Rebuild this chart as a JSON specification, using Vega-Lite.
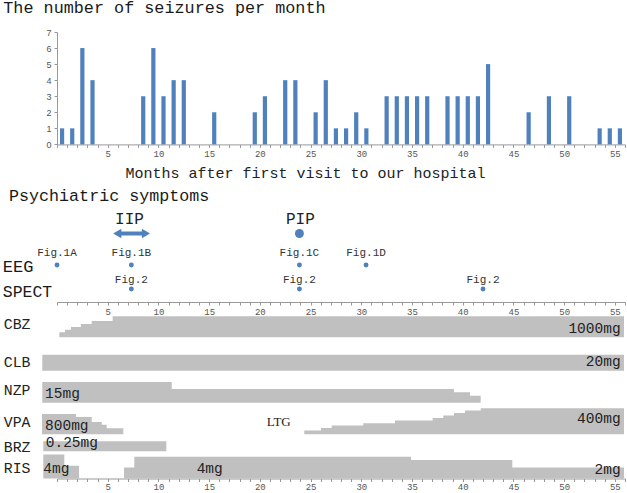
{
"$schema": "https://vega.github.io/schema/vega-lite/v6.json",
"padding": {"left": 2, "top": 0, "right": 2, "bottom": 2},
"spacing": 0,
"bounds": "flush",
"config": {
  "view": {"stroke": null},
  "axis": {"grid": false, "domainColor": "#999999", "tickColor": "#999999", "tickSize": 3, "labelFont": "Liberation Mono", "labelFontSize": 9, "labelColor": "#555555", "labelPadding": 2, "labelFlush": false, "labelOverlap": false},
  "text": {"font": "Liberation Mono", "color": "#222222", "baseline": "middle"},
  "title": {"font": "Liberation Mono"}
},
"vconcat": [
{
  "width": 568, "height": 112.4,
  "title": {"text": "The number of seizures per month", "anchor": "start", "frame": "group", "dx": -53.7, "offset": -2, "fontSize": 16.8, "fontWeight": "normal", "color": "#1a1a1a", "baseline": "alphabetic"},
  "data": {"values": [
    {"month": 1, "seizures": 1}, {"month": 2, "seizures": 1}, {"month": 3, "seizures": 6}, {"month": 4, "seizures": 4},
    {"month": 9, "seizures": 3}, {"month": 10, "seizures": 6}, {"month": 11, "seizures": 3}, {"month": 12, "seizures": 4},
    {"month": 13, "seizures": 4}, {"month": 16, "seizures": 2}, {"month": 20, "seizures": 2}, {"month": 21, "seizures": 3},
    {"month": 23, "seizures": 4}, {"month": 24, "seizures": 4}, {"month": 26, "seizures": 2}, {"month": 27, "seizures": 4},
    {"month": 28, "seizures": 1}, {"month": 29, "seizures": 1}, {"month": 30, "seizures": 2}, {"month": 31, "seizures": 1},
    {"month": 33, "seizures": 3}, {"month": 34, "seizures": 3}, {"month": 35, "seizures": 3}, {"month": 36, "seizures": 3},
    {"month": 37, "seizures": 3}, {"month": 39, "seizures": 3}, {"month": 40, "seizures": 3}, {"month": 41, "seizures": 3},
    {"month": 42, "seizures": 3}, {"month": 43, "seizures": 5}, {"month": 47, "seizures": 2}, {"month": 49, "seizures": 3},
    {"month": 51, "seizures": 3}, {"month": 54, "seizures": 1}, {"month": 55, "seizures": 1}, {"month": 56, "seizures": 1}
  ]},
  "mark": {"type": "rule", "strokeWidth": 4.2, "xOffset": -5.07, "color": "#4F81BD"},
  "encoding": {
    "x": {"field": "month", "type": "quantitative", "scale": {"domain": [0, 56], "nice": false, "zero": false},
      "axis": {"values": [0,1,2,3,4,5,6,7,8,9,10,11,12,13,14,15,16,17,18,19,20,21,22,23,24,25,26,27,28,29,30,31,32,33,34,35,36,37,38,39,40,41,42,43,44,45,46,47,48,49,50,51,52,53,54,55,56],
        "labelExpr": "datum.value % 5 === 0 && datum.value > 0 ? datum.label : ''",
        "title": "Months after first visit to our hospital", "titleFont": "Liberation Mono", "titleFontSize": 15, "titleFontWeight": "normal", "titleColor": "#222222", "titleX": 248, "titleY": 33, "titleBaseline": "alphabetic"}},
    "y": {"field": "seizures", "type": "quantitative", "scale": {"domain": [0, 7], "nice": false},
      "axis": {"values": [0,1,2,3,4,5,6,7], "title": null, "labelFont": "Liberation Sans", "labelFontSize": 9, "labelPadding": 3}},
    "y2": {"datum": 0}
  }
},
{
  "width": 568, "height": 67.3,
  "data": {"values": [{"heading": "Psychiatric symptoms"}]},
  "mark": {"type": "text", "align": "left", "dy": 17.15, "fontSize": 16.7, "color": "#1a1a1a"},
  "encoding": {
    "text": {"field": "heading"},
    "x": {"datum": -4.73, "type": "quantitative", "scale": {"domain": [0, 56], "nice": false, "zero": false}, "axis": null}
  }
},
{
  "width": 568, "height": 41,
  "layer": [
    {"data": {"values": [{"episode": "IIP", "start": 5.94, "end": 8.77}]},
     "layer": [
       {"mark": {"type": "rule", "strokeWidth": 4, "color": "#4F81BD"},
        "encoding": {"x": {"field": "start", "type": "quantitative", "scale": {"domain": [0, 56], "nice": false, "zero": false}, "axis": null}, "x2": {"field": "end"}}},
       {"mark": {"type": "point", "shape": "triangle-left", "size": 90, "filled": true, "opacity": 1, "color": "#4F81BD"},
        "encoding": {"x": {"field": "start", "type": "quantitative", "scale": {"domain": [0, 56], "nice": false, "zero": false}, "axis": null}}},
       {"mark": {"type": "point", "shape": "triangle-right", "size": 90, "filled": true, "opacity": 1, "color": "#4F81BD"},
        "encoding": {"x": {"field": "end", "type": "quantitative", "scale": {"domain": [0, 56], "nice": false, "zero": false}, "axis": null}}}
     ]},
    {"data": {"values": [{"episode": "PIP", "month": 23.9}]},
     "mark": {"type": "circle", "size": 80, "opacity": 1, "color": "#4F81BD"},
     "encoding": {"x": {"field": "month", "type": "quantitative", "scale": {"domain": [0, 56], "nice": false, "zero": false}, "axis": null}}},
    {"data": {"values": [{"episode": "IIP", "month": 7.15}, {"episode": "PIP", "month": 24.0}]},
     "mark": {"type": "text", "dy": -14.7, "fontSize": 16, "color": "#222222"},
     "encoding": {"text": {"field": "episode"}, "x": {"field": "month", "type": "quantitative", "scale": {"domain": [0, 56], "nice": false, "zero": false}, "axis": null}}}
  ]
},
{
  "width": 568, "height": 22,
  "data": {"values": [{"figure": "Fig.1A", "month": 0}, {"figure": "Fig.1B", "month": 7.33}, {"figure": "Fig.1C", "month": 23.9}, {"figure": "Fig.1D", "month": 30.47}]},
  "layer": [
    {"mark": {"type": "circle", "size": 24, "opacity": 1, "color": "#4F81BD"},
     "encoding": {"x": {"field": "month", "type": "quantitative", "scale": {"domain": [0, 56], "nice": false, "zero": false}, "axis": null}}},
    {"mark": {"type": "text", "dy": -12, "fontSize": 11, "color": "#333333"},
     "encoding": {"text": {"field": "figure"}, "x": {"field": "month", "type": "quantitative", "scale": {"domain": [0, 56], "nice": false, "zero": false}, "axis": null}}},
    {"data": {"values": [{"exam": "EEG"}]},
     "mark": {"type": "text", "align": "left", "dy": 1.5, "fontSize": 17, "color": "#1a1a1a"},
     "encoding": {"text": {"field": "exam"}, "x": {"datum": -5.35, "type": "quantitative", "scale": {"domain": [0, 56], "nice": false, "zero": false}, "axis": null}}}
  ]
},
{
  "width": 568, "height": 26,
  "data": {"values": [{"figure": "Fig.2", "month": 7.33}, {"figure": "Fig.2", "month": 23.9}, {"figure": "Fig.2", "month": 42.0}]},
  "layer": [
    {"mark": {"type": "circle", "size": 24, "opacity": 1, "color": "#4F81BD"},
     "encoding": {"x": {"field": "month", "type": "quantitative", "scale": {"domain": [0, 56], "nice": false, "zero": false},
       "axis": {"values": [0,1,2,3,4,5,6,7,8,9,10,11,12,13,14,15,16,17,18,19,20,21,22,23,24,25,26,27,28,29,30,31,32,33,34,35,36,37,38,39,40,41,42,43,44,45,46,47,48,49,50,51,52,53,54,55,56], "labelExpr": "datum.value % 5 === 0 && datum.value > 0 ? datum.label : ''", "title": null}}}},
    {"mark": {"type": "text", "dy": -9.3, "fontSize": 11, "color": "#333333"},
     "encoding": {"text": {"field": "figure"}, "x": {"field": "month", "type": "quantitative", "scale": {"domain": [0, 56], "nice": false, "zero": false},
       "axis": {"values": [0,1,2,3,4,5,6,7,8,9,10,11,12,13,14,15,16,17,18,19,20,21,22,23,24,25,26,27,28,29,30,31,32,33,34,35,36,37,38,39,40,41,42,43,44,45,46,47,48,49,50,51,52,53,54,55,56], "labelExpr": "datum.value % 5 === 0 && datum.value > 0 ? datum.label : ''", "title": null}}}},
    {"data": {"values": [{"exam": "SPECT"}]},
     "mark": {"type": "text", "align": "left", "dy": 3, "fontSize": 16.5, "color": "#1a1a1a"},
     "encoding": {"text": {"field": "exam"}, "x": {"datum": -5.35, "type": "quantitative", "scale": {"domain": [0, 56], "nice": false, "zero": false},
       "axis": {"values": [0,1,2,3,4,5,6,7,8,9,10,11,12,13,14,15,16,17,18,19,20,21,22,23,24,25,26,27,28,29,30,31,32,33,34,35,36,37,38,39,40,41,42,43,44,45,46,47,48,49,50,51,52,53,54,55,56], "labelExpr": "datum.value % 5 === 0 && datum.value > 0 ? datum.label : ''", "title": null}}}}
  ]
},
{
  "width": 568, "height": 35.3,
  "layer": [
    {"data": {"values": [{"month": 0.23, "dose": 240}, {"month": 0.79, "dose": 360}, {"month": 1.38, "dose": 490}, {"month": 2.37, "dose": 630}, {"month": 3.42, "dose": 775}, {"month": 5.49, "dose": 1000}, {"month": 55.9, "dose": 1000}]},
     "mark": {"type": "area", "interpolate": "step-after", "color": "#C0C0C0", "opacity": 1},
     "encoding": {"x": {"field": "month", "type": "quantitative", "scale": {"domain": [0, 56], "nice": false, "zero": false}, "axis": null},
       "y": {"field": "dose", "type": "quantitative", "stack": null, "scale": {"domain": [0, 1681], "nice": false}, "axis": null}}},
    {"data": {"values": [{"drug": "CBZ"}]},
     "mark": {"type": "text", "align": "left", "dy": 5.05, "fontSize": 14.8},
     "encoding": {"text": {"field": "drug"}, "x": {"datum": -5.25, "type": "quantitative", "scale": {"domain": [0, 56], "nice": false, "zero": false}, "axis": null}}},
    {"data": {"values": [{"dose_label": "1000mg"}]},
     "mark": {"type": "text", "align": "right", "dy": 9, "fontSize": 14.5},
     "encoding": {"text": {"field": "dose_label"}, "x": {"datum": 55.57, "type": "quantitative", "scale": {"domain": [0, 56], "nice": false, "zero": false}, "axis": null}}}
  ]
},
{
  "width": 568, "height": 32.7,
  "layer": [
    {"data": {"values": [{"month": -1.45, "dose": 20}, {"month": 55.9, "dose": 20}]},
     "mark": {"type": "area", "interpolate": "step-after", "color": "#C0C0C0", "opacity": 1},
     "encoding": {"x": {"field": "month", "type": "quantitative", "scale": {"domain": [0, 56], "nice": false, "zero": false}, "axis": null},
       "y": {"field": "dose", "type": "quantitative", "stack": null, "scale": {"domain": [0, 40.9], "nice": false}, "axis": null}}},
    {"data": {"values": [{"drug": "CLB"}]},
     "mark": {"type": "text", "align": "left", "dy": 8.35, "fontSize": 14.8},
     "encoding": {"text": {"field": "drug"}, "x": {"datum": -5.25, "type": "quantitative", "scale": {"domain": [0, 56], "nice": false, "zero": false}, "axis": null}}},
    {"data": {"values": [{"dose_label": "20mg"}]},
     "mark": {"type": "text", "align": "right", "dy": 7.85, "fontSize": 14.5},
     "encoding": {"text": {"field": "dose_label"}, "x": {"datum": 55.57, "type": "quantitative", "scale": {"domain": [0, 56], "nice": false, "zero": false}, "axis": null}}}
  ]
},
{
  "width": 568, "height": 31.7,
  "layer": [
    {"data": {"values": [{"month": -1.45, "dose": 15}, {"month": 11.31, "dose": 10}, {"month": 39.14, "dose": 7.5}, {"month": 40.72, "dose": 5}, {"month": 41.77, "dose": 5}]},
     "mark": {"type": "area", "interpolate": "step-after", "color": "#C0C0C0", "opacity": 1},
     "encoding": {"x": {"field": "month", "type": "quantitative", "scale": {"domain": [0, 56], "nice": false, "zero": false}, "axis": null},
       "y": {"field": "dose", "type": "quantitative", "stack": null, "scale": {"domain": [0, 22.97], "nice": false}, "axis": null}}},
    {"data": {"values": [{"drug": "NZP"}]},
     "mark": {"type": "text", "align": "left", "dy": 4.15, "fontSize": 14.8},
     "encoding": {"text": {"field": "drug"}, "x": {"datum": -5.25, "type": "quantitative", "scale": {"domain": [0, 56], "nice": false, "zero": false}, "axis": null}}},
    {"data": {"values": [{"dose_label": "15mg"}]},
     "mark": {"type": "text", "align": "left", "dy": 7.15, "fontSize": 14.5},
     "encoding": {"text": {"field": "dose_label"}, "x": {"datum": -1.18, "type": "quantitative", "scale": {"domain": [0, 56], "nice": false, "zero": false}, "axis": null}}}
  ]
},
{
  "width": 568, "height": 31.3,
  "resolve": {"scale": {"y": "independent"}},
  "layer": [
    {"data": {"values": [{"month": -1.48, "dose": 800}, {"month": 1.87, "dose": 680}, {"month": 3.42, "dose": 485}, {"month": 4.41, "dose": 380}, {"month": 4.9, "dose": 235}, {"month": 6.54, "dose": 235}]},
     "mark": {"type": "area", "interpolate": "step-after", "color": "#C0C0C0", "opacity": 1},
     "encoding": {"x": {"field": "month", "type": "quantitative", "scale": {"domain": [0, 56], "nice": false, "zero": false}, "axis": null},
       "y": {"field": "dose", "type": "quantitative", "stack": null, "scale": {"domain": [0, 1233], "nice": false}, "axis": null}}},
    {"data": {"values": [{"month": 24.38, "dose": 57}, {"month": 26.03, "dose": 97}, {"month": 27.08, "dose": 134}, {"month": 30.2, "dose": 169}, {"month": 33.32, "dose": 211}, {"month": 37.04, "dose": 251}, {"month": 38.08, "dose": 288}, {"month": 39.14, "dose": 328}, {"month": 40.22, "dose": 365}, {"month": 41.77, "dose": 400}, {"month": 55.9, "dose": 400}]},
     "mark": {"type": "area", "interpolate": "step-after", "color": "#C0C0C0", "opacity": 1},
     "encoding": {"x": {"field": "month", "type": "quantitative", "scale": {"domain": [0, 56], "nice": false, "zero": false}, "axis": null},
       "y": {"field": "dose", "type": "quantitative", "stack": null, "scale": {"domain": [0, 481.5], "nice": false}, "axis": null}}},
    {"data": {"values": [{"drug": "VPA"}]},
     "mark": {"type": "text", "align": "left", "dy": 4.65, "fontSize": 14.8},
     "encoding": {"text": {"field": "drug"}, "x": {"datum": -5.25, "type": "quantitative", "scale": {"domain": [0, 56], "nice": false, "zero": false}, "axis": null}}},
    {"data": {"values": [{"dose_label": "800mg"}]},
     "mark": {"type": "text", "align": "left", "dy": 7.15, "fontSize": 14.5},
     "encoding": {"text": {"field": "dose_label"}, "x": {"datum": -1.18, "type": "quantitative", "scale": {"domain": [0, 56], "nice": false, "zero": false}, "axis": null}}},
    {"data": {"values": [{"drug": "LTG"}]},
     "mark": {"type": "text", "align": "left", "dy": 3.45, "fontSize": 13, "font": "Liberation Serif"},
     "encoding": {"text": {"field": "drug"}, "x": {"datum": 20.67, "type": "quantitative", "scale": {"domain": [0, 56], "nice": false, "zero": false}, "axis": null}}},
    {"data": {"values": [{"dose_label": "400mg"}]},
     "mark": {"type": "text", "align": "right", "dy": 0.15, "fontSize": 14.5},
     "encoding": {"text": {"field": "dose_label"}, "x": {"datum": 55.57, "type": "quantitative", "scale": {"domain": [0, 56], "nice": false, "zero": false}, "axis": null}}}
  ]
},
{
  "width": 568, "height": 16.3,
  "layer": [
    {"data": {"values": [{"month": -1.35, "dose": 0.25}, {"month": 10.78, "dose": 0.25}]},
     "mark": {"type": "area", "interpolate": "step-after", "color": "#C0C0C0", "opacity": 1},
     "encoding": {"x": {"field": "month", "type": "quantitative", "scale": {"domain": [0, 56], "nice": false, "zero": false}, "axis": null},
       "y": {"field": "dose", "type": "quantitative", "stack": null, "scale": {"domain": [0, 0.4075], "nice": false}, "axis": null}}},
    {"data": {"values": [{"drug": "BRZ"}]},
     "mark": {"type": "text", "align": "left", "dy": 5.05, "fontSize": 14.8},
     "encoding": {"text": {"field": "drug"}, "x": {"datum": -5.25, "type": "quantitative", "scale": {"domain": [0, 56], "nice": false, "zero": false}, "axis": null}}},
    {"data": {"values": [{"dose_label": "0.25mg"}]},
     "mark": {"type": "text", "align": "left", "dy": 0, "fontSize": 14.5},
     "encoding": {"text": {"field": "dose_label"}, "x": {"datum": -1.11, "type": "quantitative", "scale": {"domain": [0, 56], "nice": false, "zero": false}, "axis": null}}}
  ]
},
{
  "width": 568, "height": 26.5,
  "layer": [
    {"data": {"values": [{"segment": "a", "month": -1.35, "dose": 4.4}, {"segment": "a", "month": 0.72, "dose": 2.35}, {"segment": "a", "month": 2.17, "dose": 2.35},
       {"segment": "b", "month": 6.61, "dose": 2.0}, {"segment": "b", "month": 7.62, "dose": 4.0}, {"segment": "b", "month": 34.9, "dose": 3.4}, {"segment": "b", "month": 44.89, "dose": 2.04}, {"segment": "b", "month": 55.9, "dose": 2.04}]},
     "mark": {"type": "area", "interpolate": "step-after", "color": "#C0C0C0", "opacity": 1},
     "encoding": {"x": {"field": "month", "type": "quantitative", "scale": {"domain": [0, 56], "nice": false, "zero": false},
         "axis": {"values": [0,1,2,3,4,5,6,7,8,9,10,11,12,13,14,15,16,17,18,19,20,21,22,23,24,25,26,27,28,29,30,31,32,33,34,35,36,37,38,39,40,41,42,43,44,45,46,47,48,49,50,51,52,53,54,55,56], "labelExpr": "datum.value % 5 === 0 && datum.value > 0 ? datum.label : ''", "title": null, "labelPadding": 1}},
       "y": {"field": "dose", "type": "quantitative", "stack": null, "scale": {"domain": [0, 4.862], "nice": false}, "axis": null},
       "detail": {"field": "segment"}}},
    {"data": {"values": [{"drug": "RIS"}]},
     "mark": {"type": "text", "align": "left", "dy": 4.15, "fontSize": 14.8},
     "encoding": {"text": {"field": "drug"}, "x": {"datum": -5.25, "type": "quantitative", "scale": {"domain": [0, 56], "nice": false, "zero": false},
       "axis": {"values": [0,1,2,3,4,5,6,7,8,9,10,11,12,13,14,15,16,17,18,19,20,21,22,23,24,25,26,27,28,29,30,31,32,33,34,35,36,37,38,39,40,41,42,43,44,45,46,47,48,49,50,51,52,53,54,55,56], "labelExpr": "datum.value % 5 === 0 && datum.value > 0 ? datum.label : ''", "title": null, "labelPadding": 1}}}},
    {"data": {"values": [{"dose_label": "4mg"}]},
     "mark": {"type": "text", "align": "left", "dy": 3.95, "fontSize": 14.5},
     "encoding": {"text": {"field": "dose_label"}, "x": {"datum": -1.35, "type": "quantitative", "scale": {"domain": [0, 56], "nice": false, "zero": false},
       "axis": {"values": [0,1,2,3,4,5,6,7,8,9,10,11,12,13,14,15,16,17,18,19,20,21,22,23,24,25,26,27,28,29,30,31,32,33,34,35,36,37,38,39,40,41,42,43,44,45,46,47,48,49,50,51,52,53,54,55,56], "labelExpr": "datum.value % 5 === 0 && datum.value > 0 ? datum.label : ''", "title": null, "labelPadding": 1}}}},
    {"data": {"values": [{"dose_label": "4mg"}]},
     "mark": {"type": "text", "align": "left", "dy": 3.95, "fontSize": 14.5},
     "encoding": {"text": {"field": "dose_label"}, "x": {"datum": 13.77, "type": "quantitative", "scale": {"domain": [0, 56], "nice": false, "zero": false},
       "axis": {"values": [0,1,2,3,4,5,6,7,8,9,10,11,12,13,14,15,16,17,18,19,20,21,22,23,24,25,26,27,28,29,30,31,32,33,34,35,36,37,38,39,40,41,42,43,44,45,46,47,48,49,50,51,52,53,54,55,56], "labelExpr": "datum.value % 5 === 0 && datum.value > 0 ? datum.label : ''", "title": null, "labelPadding": 1}}}},
    {"data": {"values": [{"dose_label": "2mg"}]},
     "mark": {"type": "text", "align": "right", "dy": 4.45, "fontSize": 14.5},
     "encoding": {"text": {"field": "dose_label"}, "x": {"datum": 55.57, "type": "quantitative", "scale": {"domain": [0, 56], "nice": false, "zero": false},
       "axis": {"values": [0,1,2,3,4,5,6,7,8,9,10,11,12,13,14,15,16,17,18,19,20,21,22,23,24,25,26,27,28,29,30,31,32,33,34,35,36,37,38,39,40,41,42,43,44,45,46,47,48,49,50,51,52,53,54,55,56], "labelExpr": "datum.value % 5 === 0 && datum.value > 0 ? datum.label : ''", "title": null, "labelPadding": 1}}}}
  ]
}
]
}
